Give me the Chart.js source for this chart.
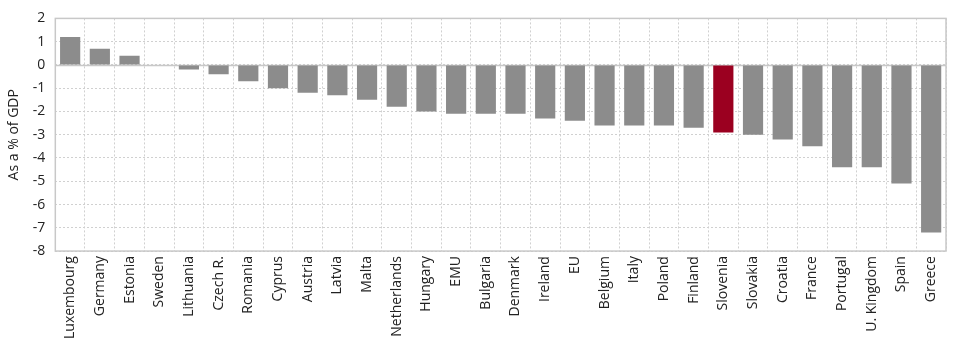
<!DOCTYPE html>
<html>
<head>
<meta charset="utf-8">
<script src="https://cdn.jsdelivr.net/npm/chart.js@4"></script>
<style>
  html, body { margin: 0; padding: 0; background: #fff; }
  .chart-container { position: relative; width: 960px; height: 347px; }
</style>
</head>
<body>
<div class="chart-container">
    <canvas id="myChart"></canvas>
</div>

<script>
    // Data
    const countries = ['Luxembourg', 'Germany', 'Estonia', 'Sweden', 'Lithuania', 'Czech R.', 'Romania',
        'Cyprus', 'Austria', 'Latvia', 'Malta', 'Netherlands', 'Hungary', 'EMU', 'Bulgaria', 'Denmark',
        'Ireland', 'EU', 'Belgium', 'Italy', 'Poland', 'Finland', 'Slovenia', 'Slovakia', 'Croatia',
        'France', 'Portugal', 'U. Kingdom', 'Spain', 'Greece'];
    const balance = [1.2, 0.7, 0.4, 0.0, -0.2, -0.4, -0.7, -1.0, -1.2, -1.3, -1.5, -1.8, -2.0, -2.1, -2.1,
        -2.1, -2.3, -2.4, -2.6, -2.6, -2.6, -2.7, -2.9, -3.0, -3.2, -3.5, -4.4, -4.4, -5.1, -7.2];
    const highlight = 'Slovenia';
    const yTicks = [2, 1, 0, -1, -2, -3, -4, -5, -6, -7, -8];

    const grey = '#8c8c8c';
    const red = '#9b0020';

    // solid frame round the plot and a solid zero line
    const framePlugin = {
        id: 'frame',
        beforeDatasetsDraw(chart) {
            const { ctx, chartArea, scales } = chart;
            ctx.save();
            ctx.strokeStyle = '#c8c8c8';
            ctx.lineWidth = 1.5;
            ctx.strokeRect(chartArea.left, chartArea.top, chartArea.right - chartArea.left, chartArea.bottom - chartArea.top);
            const y0 = Math.round(scales.y.getPixelForValue(0)) + 0.5;
            ctx.beginPath();
            ctx.moveTo(chartArea.left, y0);
            ctx.lineTo(chartArea.right, y0);
            ctx.stroke();
            ctx.restore();
        }
    };

    const ctx = document.getElementById('myChart').getContext('2d');
    const myChart = new Chart(ctx, {
        type: 'bar',
        data: {
            labels: countries,
            datasets: [{
                data: balance,
                backgroundColor: countries.map(c => c === highlight ? red : grey),
                borderWidth: 0,
                categoryPercentage: 0.68,
                barPercentage: 1.0
            }]
        },
        options: {
            responsive: true,
            maintainAspectRatio: false,
            animation: false,
            layout: { padding: { top: -4, right: 14, left: 6, bottom: 3 } },
            plugins: {
                legend: { display: false },
                tooltip: { enabled: false }
            },
            scales: {
                x: {
                    grid: { color: '#d0d0d0', lineWidth: 1, drawTicks: false },
                    border: { display: false, dash: [2, 2] },
                    ticks: {
                        color: '#222',
                        font: { family: 'Open Sans', size: 14 },
                        minRotation: 90,
                        maxRotation: 90,
                        autoSkip: false,
                        padding: 5
                    }
                },
                y: {
                    min: -8,
                    max: 2,
                    afterBuildTicks(axis) {
                        axis.ticks = yTicks.map(v => ({ value: v }));
                    },
                    grid: { color: '#d0d0d0', lineWidth: 1, drawTicks: false },
                    border: { display: false, dash: [2, 2] },
                    ticks: {
                        color: '#222',
                        font: { family: 'Open Sans', size: 14 },
                        padding: 10
                    },
                    title: {
                        display: true,
                        text: 'As a % of GDP',
                        color: '#222',
                        font: { family: 'Open Sans', size: 14 },
                        padding: { top: 0, bottom: 0 }
                    }
                }
            }
        },
        plugins: [framePlugin]
    });
</script>
</body>
</html>
